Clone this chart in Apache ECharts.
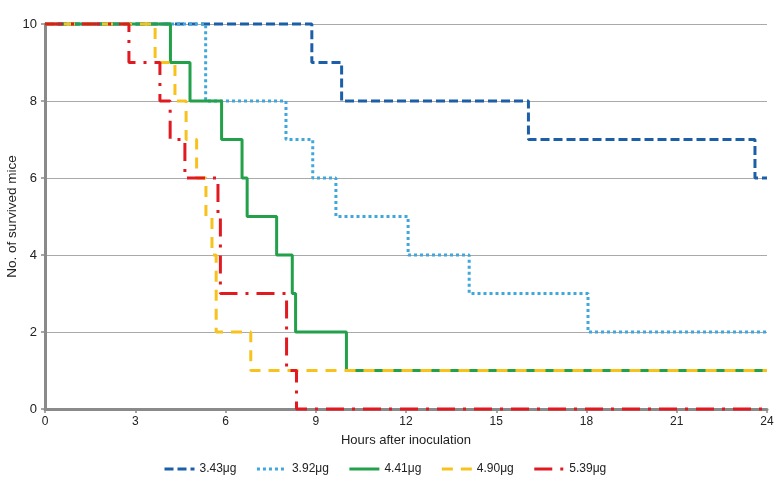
<!DOCTYPE html>
<html><head><meta charset="utf-8">
<script src="https://cdn.jsdelivr.net/npm/echarts@6/dist/echarts.min.js"></script>
<style>html,body{margin:0;padding:0;background:#fff}#c{width:778px;height:485px}</style>
</head><body><div id="c"></div>
<script>
// Survival step data: drop times (hours) and counts after each drop
const seriesNames = ['3.43μg', '3.92μg', '4.41μg', '4.90μg', '5.39μg'];
const times_343 = [0, 8.87, 9.86, 16.07, 23.6, 24];
const counts_343 = [10, 9, 8, 7, 6, 6];
const times_392 = [0, 5.34, 8.01, 8.9, 9.67, 12.07, 14.1, 18.05, 24];
const counts_392 = [10, 8, 7, 6, 5, 4, 3, 2, 2];
const times_441 = [0, 4.17, 4.82, 5.87, 6.55, 6.72, 7.7, 8.22, 8.33, 10.02, 24];
const counts_441 = [10, 9, 8, 7, 6, 5, 4, 3, 2, 1, 1];
const times_490 = [0, 3.66, 4.32, 4.69, 5.04, 5.35, 5.55, 5.69, 6.84, 24];
const counts_490 = [10, 9, 8, 7, 6, 5, 4, 2, 1, 1];
const times_539 = [0, 2.79, 3.82, 4.16, 4.65, 5.75, 5.83, 8.03, 8.36, 24];
const counts_539 = [10, 9, 8, 7, 6, 5, 3, 1, 0, 0];
const xTicks = [0, 3, 6, 9, 12, 15, 18, 21, 24];
const yTicks = [0, 2, 4, 6, 8, 10];

const allTimes = [times_343, times_392, times_441, times_490, times_539];
const allCounts = [counts_343, counts_392, counts_441, counts_490, counts_539];
const colors = ['#1c5fa8', '#3fa7dc', '#22a04a', '#f7c21c', '#e11a22'];
const dashes = [[9, 4], [3, 3], 'solid', [11, 8], [18, 8, 3, 8]];
const SANS = "'Liberation Sans', Arial, sans-serif";
const NARROW = "'Liberation Sans Narrow', 'Arial Narrow', 'Liberation Sans', Arial, sans-serif";

const chart = echarts.init(document.getElementById('c'), null, {renderer: 'canvas'});
const series = seriesNames.map((n, i) => ({
  name: n, type: 'line', step: 'end', symbol: 'none', animation: false,
  data: allTimes[i].map((t, k) => [t, allCounts[i][k]]),
  lineStyle: {color: colors[i], width: 3, type: dashes[i], cap: 'butt'},
  itemStyle: {color: colors[i]},
  clip: false
}));
chart.setOption({
  animation: false,
  grid: {left: 45, right: 11, top: 24, bottom: 76, outerBoundsMode: 'none', containLabel: false},
  legend: {
    bottom: 5, left: 158, itemWidth: 30, itemHeight: 12, itemGap: 19,
    textStyle: {fontFamily: NARROW, fontSize: 12, color: '#222'},
    lineStyle: {width: 3},
    itemStyle: {opacity: 0},
    data: seriesNames.map(n => ({name: n}))
  },
  xAxis: {
    type: 'value', min: 0, max: 24, interval: 3,
    name: 'Hours after inoculation', nameLocation: 'middle', nameGap: 25,
    nameTextStyle: {fontFamily: NARROW, fontSize: 13, color: '#222'},
    axisLine: {show: true, lineStyle: {color: '#8a8a8a', width: 3}},
    axisTick: {show: true, length: 4, lineStyle: {color: '#8a8a8a', width: 1.5}},
    axisLabel: {fontFamily: NARROW, fontSize: 12, color: '#222', margin: 7,
      formatter: v => xTicks.includes(v) ? String(v) : ''},
    splitLine: {show: false}
  },
  yAxis: {
    type: 'value', min: 0, max: 10, interval: 2,
    name: 'No. of survived mice', nameLocation: 'middle', nameGap: 26, nameMoveOverlap: false,
    nameTextStyle: {fontFamily: SANS, fontSize: 13.5, color: '#222'},
    axisLine: {show: true, lineStyle: {color: '#8a8a8a', width: 3}},
    axisTick: {show: true, length: 4, lineStyle: {color: '#8a8a8a', width: 1.5}},
    axisLabel: {fontFamily: SANS, fontSize: 13, color: '#222', margin: 8,
      formatter: v => yTicks.includes(v) ? String(v) : ''},
    splitLine: {show: true, lineStyle: {color: '#a9a9a9', width: 1}}
  },
  series: series
});
</script></body></html>
